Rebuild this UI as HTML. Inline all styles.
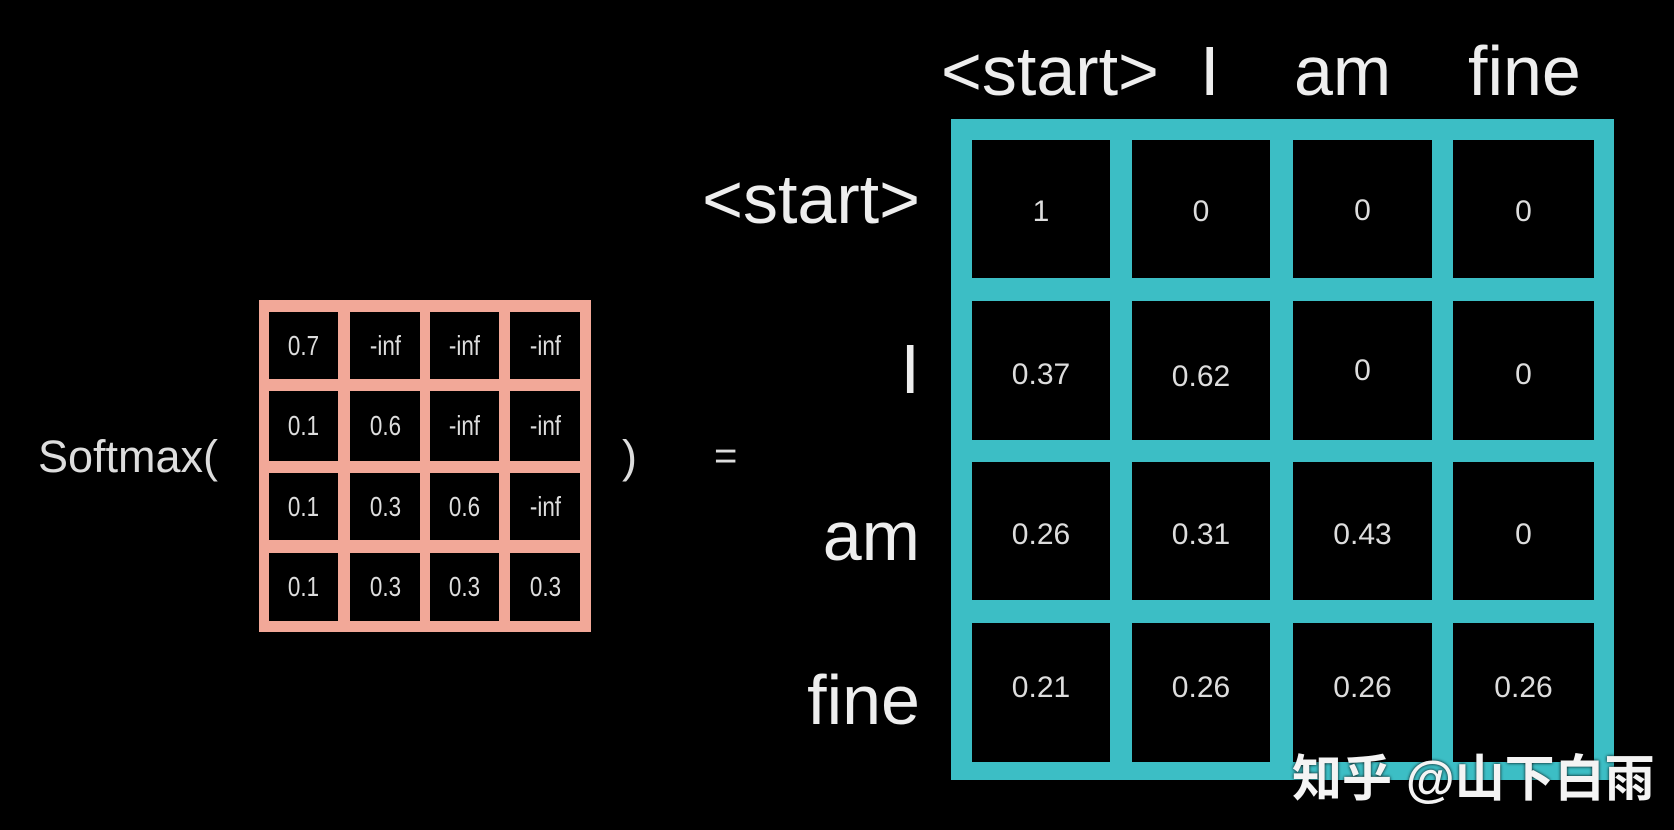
<!DOCTYPE html>
<html><head><meta charset="utf-8"><style>
body{margin:0;width:1674px;height:830px;background:#000;position:relative;overflow:hidden;font-family:"Liberation Sans",sans-serif;color:#eee}
.a{position:absolute}
.pc{position:absolute;background:#000;color:#ddd;font-size:28px;display:flex;align-items:center;justify-content:center}
.pc span{display:inline-block;transform:scaleX(0.8)}
.tc{position:absolute;background:#000;color:#ddd;font-size:30px;display:flex;align-items:center;justify-content:center}
.h{position:absolute;font-size:70px;color:#eee;line-height:1;white-space:nowrap}
.l{position:absolute;font-size:70px;color:#eee;line-height:1;white-space:nowrap;right:754px;text-align:right}
</style></head><body>
<div class="a" style="left:259px;top:300px;width:332px;height:332px;background:#f2a898"></div>
<div class="a" style="left:951px;top:119px;width:663px;height:661px;background:#3cbec5"></div>

<div class="a" style="left:38px;top:434px;font-size:45px;color:#ddd;line-height:1">Softmax(</div>
<div class="a" style="left:622px;top:434px;font-size:45px;color:#ddd;line-height:1">)</div>
<div class="a" style="left:714px;top:436px;font-size:40px;color:#ddd;line-height:1">=</div>

<div class="h" style="left:941px;top:36px">&lt;start&gt;</div>
<div class="h" style="left:1200px;top:36px">I</div>
<div class="h" style="left:1294px;top:36px">am</div>
<div class="h" style="left:1468px;top:36px">fine</div>

<div class="l" style="top:164px">&lt;start&gt;</div>
<div class="l" style="top:334px">I</div>
<div class="l" style="top:501px">am</div>
<div class="l" style="top:665px">fine</div>

<div class="pc" style="left:269px;top:312px;width:69px;height:67px"><span>0.7</span></div>
<div class="pc" style="left:350px;top:312px;width:70px;height:67px"><span>-inf</span></div>
<div class="pc" style="left:430px;top:312px;width:69px;height:67px"><span>-inf</span></div>
<div class="pc" style="left:510px;top:312px;width:70px;height:67px"><span>-inf</span></div>
<div class="pc" style="left:269px;top:391px;width:69px;height:70px"><span>0.1</span></div>
<div class="pc" style="left:350px;top:391px;width:70px;height:70px"><span>0.6</span></div>
<div class="pc" style="left:430px;top:391px;width:69px;height:70px"><span>-inf</span></div>
<div class="pc" style="left:510px;top:391px;width:70px;height:70px"><span>-inf</span></div>
<div class="pc" style="left:269px;top:473px;width:69px;height:67px"><span>0.1</span></div>
<div class="pc" style="left:350px;top:473px;width:70px;height:67px"><span>0.3</span></div>
<div class="pc" style="left:430px;top:473px;width:69px;height:67px"><span>0.6</span></div>
<div class="pc" style="left:510px;top:473px;width:70px;height:67px"><span>-inf</span></div>
<div class="pc" style="left:269px;top:553px;width:69px;height:68px"><span>0.1</span></div>
<div class="pc" style="left:350px;top:553px;width:70px;height:68px"><span>0.3</span></div>
<div class="pc" style="left:430px;top:553px;width:69px;height:68px"><span>0.3</span></div>
<div class="pc" style="left:510px;top:553px;width:70px;height:68px"><span>0.3</span></div>

<div class="tc" style="left:972px;top:140px;width:138px;height:138px;padding-top:6px;box-sizing:border-box">1</div>
<div class="tc" style="left:1132px;top:140px;width:138px;height:138px;padding-top:6px;box-sizing:border-box">0</div>
<div class="tc" style="left:1293px;top:140px;width:139px;height:138px;padding-top:4px;box-sizing:border-box">0</div>
<div class="tc" style="left:1453px;top:140px;width:141px;height:138px;padding-top:6px;box-sizing:border-box">0</div>
<div class="tc" style="left:972px;top:301px;width:138px;height:139px;padding-top:8px;box-sizing:border-box">0.37</div>
<div class="tc" style="left:1132px;top:301px;width:138px;height:139px;padding-top:12px;box-sizing:border-box">0.62</div>
<div class="tc" style="left:1293px;top:301px;width:139px;height:139px;box-sizing:border-box">0</div>
<div class="tc" style="left:1453px;top:301px;width:141px;height:139px;padding-top:8px;box-sizing:border-box">0</div>
<div class="tc" style="left:972px;top:462px;width:138px;height:138px;padding-top:8px;box-sizing:border-box">0.26</div>
<div class="tc" style="left:1132px;top:462px;width:138px;height:138px;padding-top:8px;box-sizing:border-box">0.31</div>
<div class="tc" style="left:1293px;top:462px;width:139px;height:138px;padding-top:8px;box-sizing:border-box">0.43</div>
<div class="tc" style="left:1453px;top:462px;width:141px;height:138px;padding-top:8px;box-sizing:border-box">0</div>
<div class="tc" style="left:972px;top:623px;width:138px;height:139px;padding-bottom:10px;box-sizing:border-box">0.21</div>
<div class="tc" style="left:1132px;top:623px;width:138px;height:139px;padding-bottom:10px;box-sizing:border-box">0.26</div>
<div class="tc" style="left:1293px;top:623px;width:139px;height:139px;padding-bottom:10px;box-sizing:border-box">0.26</div>
<div class="tc" style="left:1453px;top:623px;width:141px;height:139px;padding-bottom:10px;box-sizing:border-box">0.26</div>

<div class="a" style="left:1292px;top:754px;font-size:50px;line-height:1;color:#f4f4f4;font-family:'Liberation Sans','Noto Sans CJK SC',sans-serif;font-weight:bold;white-space:nowrap;text-shadow:0 0 3px #000">知乎 @山下白雨</div>
</body></html>
